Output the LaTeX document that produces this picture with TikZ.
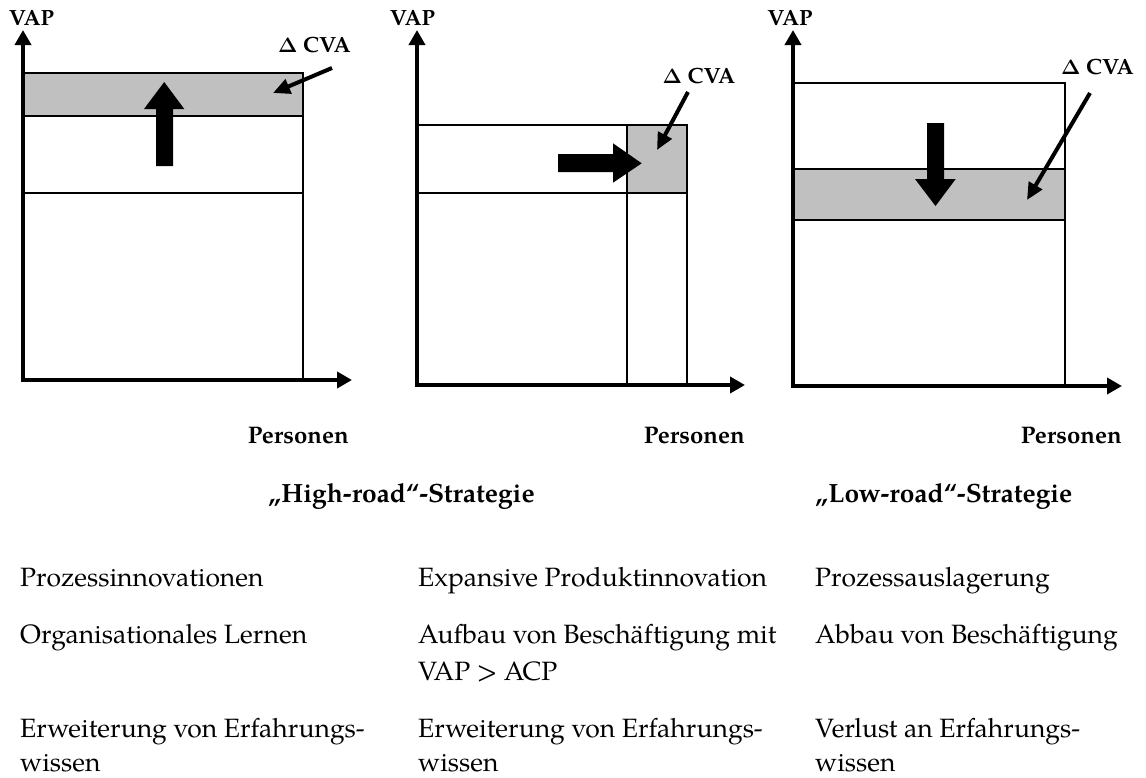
\documentclass[tikz,border=0pt]{standalone}
\usepackage{fontspec}
\setmainfont{TeX Gyre Pagella}
\usetikzlibrary{arrows.meta}
\definecolor{bandgray}{RGB}{192,192,192}

\begin{document}
\begin{tikzpicture}[x=1pt,y=-1pt,
  axis/.style={line width=4.5pt,line join=miter,{Triangle[length=15pt,width=16pt]}-{Triangle[length=15pt,width=16pt]}},
  frame/.style={line width=2pt},
  thinframe/.style={line width=1.6pt},
  pointer/.style={line width=4pt,-{Triangle[length=17pt,width=15pt]}},
  block/.style={fill=black},
  vaplabel/.style={inner sep=0pt,anchor=base,font=\fontsize{22}{26}\selectfont\bfseries},
  cvalabel/.style={inner sep=0pt,anchor=base,font=\fontsize{22}{26}\selectfont\bfseries\boldmath},
  xlabel/.style={inner sep=0pt,anchor=base east,font=\fontsize{24}{28}\selectfont\bfseries},
  strategy/.style={inner sep=0pt,anchor=base west,font=\fontsize{26.4}{31}\selectfont\bfseries},
  body/.style={inner sep=0pt,anchor=base west,font=\fontsize{26.5}{37}\selectfont}
]
\useasboundingbox (0,0) rectangle (1146,777);

% ---------- panel 1: process innovation (CVA band on top) ----------
\fill[bandgray] (23,73) rectangle (303,116);
\draw[frame] (23,73) rectangle (303,380);
\draw[frame] (23,116) -- (303,116);
\draw[thinframe] (23,193) -- (303,193);
\fill[block] (156,166) -- (156,109) -- (144,109) -- (164.2,82) -- (184.3,109)
  -- (173,109) -- (173,166) -- cycle;
\draw[axis] (23,30) -- (23,380) -- (352,380);
\node[vaplabel] (vap1) at (31.5,25) {VAP};
\node[cvalabel] (cva1) at (314.5,52) {$\Delta$ CVA};
\coordinate (p1s) at (332,68);
\coordinate (p1e) at (273,93);
\draw[pointer] (p1s) -- (p1e);
\node[xlabel] (pers1) at (349,443) {Personen};

% ---------- panel 2: expansive product innovation ----------
\fill[bandgray] (627,125) rectangle (687,193);
\draw[frame] (417,125) -- (687,125) -- (687,385);
\draw[frame] (417,193) -- (687,193);
\draw[frame] (627,125) -- (627,385);
\fill[block] (558,154) -- (613,154) -- (613,143.3) -- (641.7,163.3) -- (613,182.7)
  -- (613,172) -- (558,172) -- cycle;
\draw[axis] (417,30) -- (417,385) -- (745,385);
\node[vaplabel] (vap2) at (412.5,25) {VAP};
\node[cvalabel] (cva2) at (699,83) {$\Delta$ CVA};
\coordinate (p2s) at (688,92);
\coordinate (p2e) at (657,150);
\draw[pointer] (p2s) -- (p2e);
\node[xlabel] (pers2) at (745,443) {Personen};

% ---------- panel 3: outsourcing (CVA band lost) ----------
\fill[bandgray] (793,169) rectangle (1065,220);
\draw[frame] (793,83) -- (1065,83) -- (1065,386);
\draw[frame] (793,169) rectangle (1065,220);
\fill[block] (927,123) -- (944,123) -- (944,179) -- (955.7,179) -- (935.5,206)
  -- (915,179) -- (927,179) -- cycle;
\draw[axis] (793,30) -- (793,386) -- (1122,386);
\node[vaplabel] (vap3) at (790,25) {VAP};
\node[cvalabel] (cva3) at (1097.5,74) {$\Delta$ CVA};
\coordinate (p3s) at (1090,93);
\coordinate (p3e) at (1027,200);
\draw[pointer] (p3s) -- (p3e);
\node[xlabel] (pers3) at (1122,443) {Personen};

% ---------- strategy headings ----------
\node[strategy] (high) at (268,502) {„High-road“-Strategie};
\node[strategy] (low) at (815,502) {„Low-road“-Strategie};

% ---------- descriptions ----------
\node[body] (a1) at (20,586) {Prozessinnovationen};
\node[body] (a2) at (20,643) {Organisationales Lernen};
\node[body] (a3) at (20,737) {Erweiterung von Erfahrungs-};
\node[body] (a4) at (20,771) {wissen};

\node[body] (b1) at (418,586) {Expansive Produktinnovation};
\node[body] (b2) at (418,643) {Aufbau von Beschäftigung mit};
\node[body] (b3) at (418,680) {VAP > ACP};
\node[body] (b4) at (418,737) {Erweiterung von Erfahrungs-};
\node[body] (b5) at (418,771) {wissen};

\node[body] (c1) at (815,586) {Prozessauslagerung};
\node[body] (c2) at (815,643) {Abbau von Beschäftigung};
\node[body] (c3) at (815,737) {Verlust an Erfahrungs-};
\node[body] (c4) at (815,771) {wissen};
\end{tikzpicture}
\end{document}
